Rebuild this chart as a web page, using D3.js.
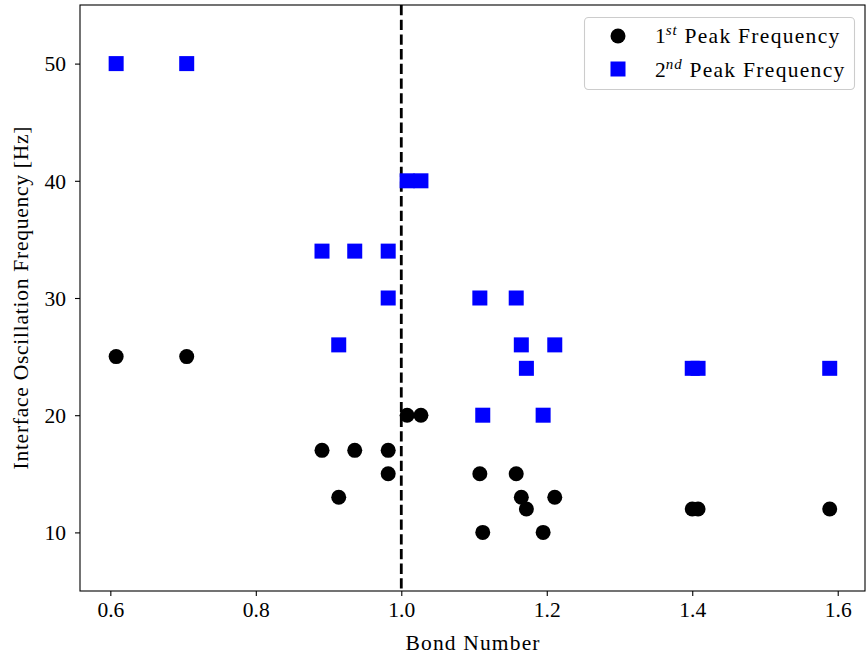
<!DOCTYPE html>
<html>
<head>
<meta charset="utf-8">
<script src="https://cdn.jsdelivr.net/npm/d3@7"></script>
<style>
  html, body { margin: 0; padding: 0; background: #fff; }
  svg text { font-family: "Liberation Serif", "Times New Roman", serif; fill: #000; }
</style>
</head>
<body>
<svg id="chart" width="866" height="659"></svg>
<script>
// ---- data ----
const bondNumber = [0.608, 0.705, 0.891, 0.914, 0.936, 0.982, 0.982, 1.008, 1.027, 1.108, 1.112, 1.158, 1.165, 1.172, 1.195, 1.211, 1.400, 1.408, 1.589];
const peak1 = [25, 25, 17, 13, 17, 17, 15, 20, 20, 15, 10, 15, 13, 12, 10, 13, 12, 12, 12];
const peak2 = [50, 50, 34, 26, 34, 34, 30, 40, 40, 30, 20, 30, 26, 24, 20, 26, 24, 24, 24];
const xTicks = [0.6, 0.8, 1.0, 1.2, 1.4, 1.6];
const yTicks = [10, 20, 30, 40, 50];
const criticalBond = 1.0;

// ---- layout ----
const svg = d3.select("#chart");
const L = 80, R = 865, T = 5, B = 591;
const x = d3.scaleLinear().domain([0.5583, 1.6375]).range([L, R]);
const y = d3.scaleLinear().domain([5, 55]).range([B, T]);
const fs = 21.5;

// axes
const xAxis = d3.axisBottom(x).tickValues(xTicks).tickFormat(d3.format(".1f")).tickSize(5).tickPadding(6);
const yAxis = d3.axisLeft(y).tickValues(yTicks).tickFormat(d3.format("d")).tickSize(5).tickPadding(9);

const gx = svg.append("g").attr("transform", `translate(0,${B})`).call(xAxis);
const gy = svg.append("g").attr("transform", `translate(${L},0)`).call(yAxis);
[gx, gy].forEach(g => {
  g.select(".domain").remove();
  g.selectAll(".tick line").attr("stroke", "#000").attr("stroke-width", 1.1);
  g.selectAll(".tick text").style("font-family", '"Liberation Serif", serif').style("font-size", fs + "px").attr("fill", "#000");
});
gy.selectAll(".tick text").attr("dy", "0.34em");

// dashed vertical line
svg.append("line")
  .attr("x1", x(criticalBond)).attr("x2", x(criticalBond))
  .attr("y1", T).attr("y2", B)
  .attr("stroke", "#000").attr("stroke-width", 2.8)
  .attr("stroke-dasharray", "10.3,4.4");

// points
const pts = bondNumber.map((b, i) => ({ b, f1: peak1[i], f2: peak2[i] }));
const ms = 15;
svg.append("g").selectAll("rect").data(pts).join("rect")
  .attr("x", d => x(d.b) - ms / 2).attr("y", d => y(d.f2) - ms / 2)
  .attr("width", ms).attr("height", ms).attr("fill", "#0000ff");
svg.append("g").selectAll("circle").data(pts).join("circle")
  .attr("cx", d => x(d.b)).attr("cy", d => y(d.f1)).attr("r", ms / 2).attr("fill", "#000");

// frame
svg.append("rect").attr("x", L).attr("y", T).attr("width", R - L).attr("height", B - T)
  .attr("fill", "none").attr("stroke", "#000").attr("stroke-width", 1.1);

// axis labels
svg.append("text").attr("x", (L + R) / 2).attr("y", 650).attr("text-anchor", "middle")
  .attr("textLength", 134).attr("lengthAdjust", "spacing")
  .style("font-size", fs + "px").text("Bond Number");
svg.append("text").attr("transform", `translate(28,${(T + B) / 2}) rotate(-90)`)
  .attr("text-anchor", "middle").style("font-size", fs + "px")
  .attr("textLength", 343).attr("lengthAdjust", "spacing")
  .text("Interface Oscillation Frequency [Hz]");

// legend
const lg = svg.append("g");
lg.append("rect").attr("x", 584.5).attr("y", 17.5).attr("width", 270).attr("height", 72)
  .attr("rx", 4).attr("fill", "#fff").attr("fill-opacity", 0.8)
  .attr("stroke", "#cccccc").attr("stroke-width", 1.1);
lg.append("circle").attr("cx", 618).attr("cy", 36).attr("r", ms / 2).attr("fill", "#000");
lg.append("rect").attr("x", 618 - ms / 2).attr("y", 69 - ms / 2).attr("width", ms).attr("height", ms).attr("fill", "#0000ff");
const entries = [["1", "st", 43], ["2", "nd", 77]];
entries.forEach(([n, sup, yy]) => {
  const t = lg.append("text").attr("x", 655).attr("y", yy).style("font-size", fs + "px");
  t.append("tspan").text(n);
  t.append("tspan").attr("dy", -8).style("font-size", "15px").style("font-style", "italic")
    .style("letter-spacing", "1px").text(sup);
  t.append("tspan").attr("dy", 8).style("letter-spacing", "1.3px").text(" Peak Frequency");
});
</script>
</body>
</html>
